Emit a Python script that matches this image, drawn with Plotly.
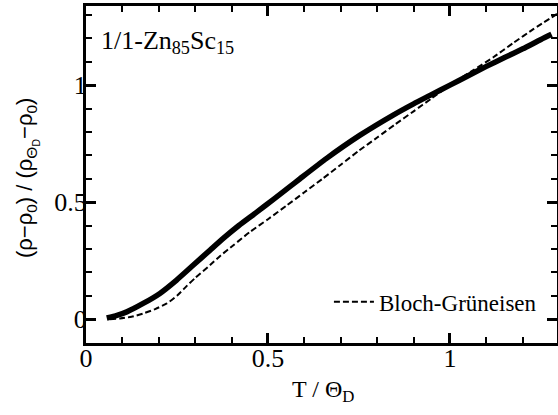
import plotly.graph_objects as go

# Measured curve (solid)
t_meas = [0.057, 0.085, 0.112, 0.157, 0.203, 0.249, 0.295, 0.341, 0.377, 0.420, 0.469, 0.515,
          0.560, 0.588, 0.661, 0.753, 0.844, 0.900, 0.945, 1.000, 1.050, 1.100, 1.150,
          1.200, 1.250, 1.279]
r_meas = [0.005, 0.016, 0.031, 0.067, 0.110, 0.167, 0.231, 0.295, 0.345, 0.400, 0.457, 0.512,
          0.566, 0.600, 0.687, 0.786, 0.872, 0.920, 0.956, 1.000, 1.040, 1.080, 1.118,
          1.155, 1.195, 1.217]

# Bloch-Grüneisen curve (dashed)
t_bg = [0.066, 0.093, 0.125, 0.157, 0.190, 0.222, 0.250, 0.277, 0.300, 0.341, 0.370, 0.405,
        0.450, 0.500, 0.550, 0.600, 0.650, 0.700, 0.750, 0.800, 0.850, 0.900, 0.950,
        1.000, 1.060, 1.120, 1.174, 1.230, 1.295]
r_bg = [0.000, 0.003, 0.010, 0.024, 0.043, 0.067, 0.100, 0.142, 0.176, 0.231, 0.272, 0.316,
        0.372, 0.427, 0.484, 0.542, 0.600, 0.660, 0.720, 0.776, 0.833, 0.888, 0.944,
        1.000, 1.060, 1.120, 1.180, 1.240, 1.305]

x_ticks = [0, 0.5, 1]
x_labels = ["0", "0.5", "1"]
y_ticks = [0, 0.5, 1]
y_labels = ["0", "0.5", "1"]

serif = "Liberation Serif, Times New Roman, serif"
sans = "Liberation Sans, Arial, sans-serif"

fig = go.Figure()
fig.add_trace(go.Scatter(x=t_meas, y=r_meas, mode="lines",
                         line=dict(color="black", width=5.5, shape="spline", smoothing=0.6),
                         showlegend=False))
fig.add_trace(go.Scatter(x=t_bg, y=r_bg, mode="lines", name="Bloch-Grüneisen",
                         line=dict(color="black", width=2, dash="6px,3px",
                                   shape="spline", smoothing=0.6),
                         showlegend=True))

axis_common = dict(
    showline=True, linecolor="black", linewidth=3, mirror="allticks",
    ticks="inside", ticklen=10, tickwidth=2.5, tickcolor="black",
    showgrid=False, zeroline=False, automargin=False,
    tickfont=dict(family=serif, size=26, color="black"),
    minor=dict(ticks="inside", ticklen=6, tickwidth=2, tickcolor="black", dtick=0.1),
)

fig.update_xaxes(range=[0, 1.294], tickvals=x_ticks, ticktext=x_labels,
                 ticklabelstandoff=-10, **axis_common)
fig.update_yaxes(range=[-0.102, 1.338], tickvals=y_ticks, ticktext=y_labels,
                 ticklabelstandoff=-9, **axis_common)

# axis titles
fig.add_annotation(text="T / Θ<sub>D</sub>", xref="paper", yref="paper",
                   x=0.503, y=-0.142, xanchor="center", yanchor="middle", showarrow=False,
                   font=dict(family=serif, size=24, color="black"))
fig.add_annotation(text="(ρ−ρ<sub>0</sub>) / (ρ<sub>Θ<sub>D</sub></sub>−ρ<sub>0</sub>)",
                   xref="paper", yref="paper", textangle=-90,
                   x=-0.125, y=0.49, xanchor="center", yanchor="middle", showarrow=False,
                   font=dict(family=sans, size=22, color="black"))

fig.add_annotation(text="1/1-Zn<sub>85</sub>Sc<sub>15</sub>", xref="paper", yref="paper",
                   x=0.028, y=0.892, xanchor="left", yanchor="middle", showarrow=False,
                   font=dict(family=serif, size=26, color="black"))

fig.update_layout(
    width=558, height=415,
    margin=dict(l=86, r=1, t=6, b=72),
    paper_bgcolor="white", plot_bgcolor="white",
    legend=dict(x=0.968, y=0.122, xanchor="right", yanchor="middle",
                bgcolor="rgba(0,0,0,0)", font=dict(family=serif, size=23, color="black"),
                itemwidth=40),
)

fig.write_html("out.html", config={"displayModeBar": False},
               post_script="document.body.style.margin='0px';document.body.style.overflow='hidden';")
